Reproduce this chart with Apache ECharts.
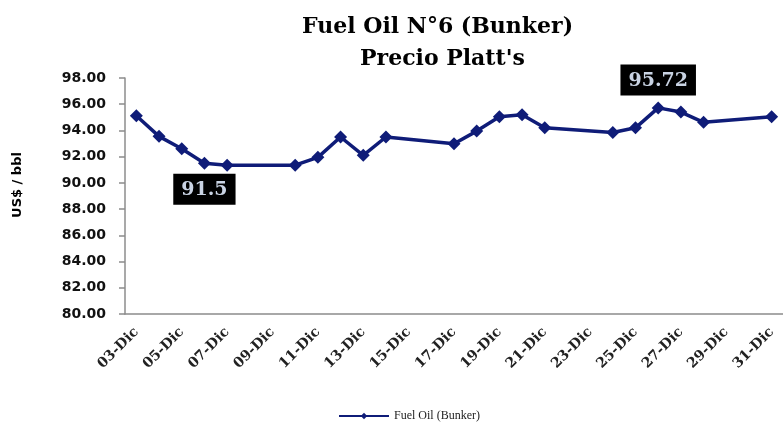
<!DOCTYPE html>
<html>
<head>
<meta charset="utf-8">
<script src="https://cdn.jsdelivr.net/npm/echarts@6/dist/echarts.min.js"></script>
<style>
  html, body { margin: 0; padding: 0; background: #fff; }
  #chart { width: 783px; height: 425px; }
</style>
</head>
<body>
<div id="chart"></div>
<script>
// every day on the axis (03-Dic .. 31-Dic)
var days = ['03-Dic','04-Dic','05-Dic','06-Dic','07-Dic','08-Dic','09-Dic','10-Dic','11-Dic','12-Dic',
  '13-Dic','14-Dic','15-Dic','16-Dic','17-Dic','18-Dic','19-Dic','20-Dic','21-Dic','22-Dic',
  '23-Dic','24-Dic','25-Dic','26-Dic','27-Dic','28-Dic','29-Dic','30-Dic','31-Dic'];

// days with a quote and their price
var quoteDays = ['03-Dic','04-Dic','05-Dic','06-Dic','07-Dic','10-Dic','11-Dic','12-Dic','13-Dic','14-Dic',
  '17-Dic','18-Dic','19-Dic','20-Dic','21-Dic','24-Dic','25-Dic','26-Dic','27-Dic','28-Dic','31-Dic'];
var prices = [95.12, 93.55, 92.6, 91.5, 91.35, 91.35, 91.95, 93.5, 92.1, 93.5,
  92.98, 93.95, 95.05, 95.2, 94.2, 93.85, 94.2, 95.72, 95.4, 94.62, 95.05];

// points that carry a value label
var labelled = ['06-Dic', '26-Dic'];

var yTicks = [80, 82, 84, 86, 88, 90, 92, 94, 96, 98];

var chart = echarts.init(document.getElementById('chart'));

var seriesData = quoteDays.map(function (d, i) {
  var item = { value: [d, prices[i]] };
  if (labelled.indexOf(d) >= 0) {
    var below = d === '06-Dic';
    item.label = {
      show: true,
      position: below ? 'bottom' : 'top',
      distance: below ? 4 : 6,
      formatter: String(prices[i]),
      backgroundColor: '#000',
      color: '#c9d3e3',
      fontFamily: 'DejaVu Serif',
      fontWeight: 'bold',
      fontSize: 19,
      padding: [7, 8, 5, 8]
    };
  }
  return item;
});

var titleFont = { fontFamily: 'DejaVu Serif', fontWeight: 'bold', fontSize: 22, color: '#000' };

var option = {
  animation: false,
  backgroundColor: '#fff',
  title: [
    { text: 'Fuel Oil N°6 (Bunker)', left: 297, top: 11, textStyle: titleFont },
    { text: "Precio Platt's", left: 355, top: 43, textStyle: titleFont }
  ],
  legend: {
    left: 333, top: 405,
    itemWidth: 50, itemHeight: 8,
    data: ['Fuel Oil (Bunker)'],
    textStyle: { fontFamily: 'Liberation Serif', fontSize: 12, color: '#222' }
  },
  grid: { left: 125, right: -6, top: 78, bottom: 111 },
  xAxis: {
    type: 'category',
    data: days,
    boundaryGap: true,
    axisLine: { lineStyle: { color: '#8c8c8c', width: 1.5 } },
    axisTick: { interval: 1, length: 6, lineStyle: { color: '#8c8c8c', width: 1.5 } },
    axisLabel: {
      interval: 1, rotate: 45, margin: 16,
      fontFamily: 'DejaVu Serif', fontWeight: 'bold', fontSize: 14, color: '#222'
    }
  },
  yAxis: {
    type: 'value',
    min: yTicks[0], max: yTicks[yTicks.length - 1], interval: 2,
    name: 'US$ / bbl',
    nameLocation: 'middle', nameRotate: 90, nameGap: 101,
    nameTextStyle: { fontFamily: 'DejaVu Sans', fontWeight: 'bold', fontSize: 13, color: '#000', padding: [0, 0, 0, 22] },
    splitLine: { show: false },
    axisLine: { show: true, lineStyle: { color: '#8c8c8c', width: 1.5 } },
    axisTick: { show: true, length: 6, lineStyle: { color: '#8c8c8c', width: 1.5 } },
    axisLabel: {
      margin: 19,
      formatter: function (v) { return v.toFixed(2); },
      fontFamily: 'DejaVu Sans', fontWeight: 'bold', fontSize: 14, color: '#111'
    }
  },
  series: [
    {
      name: 'Fuel Oil (Bunker)',
      type: 'line',
      symbol: 'diamond',
      symbolSize: 13,
      connectNulls: true,
      itemStyle: { color: '#0f1c78' },
      lineStyle: { width: 3.5, color: '#0f1c78' },
      data: seriesData
    }
  ]
};

chart.setOption(option);
</script>
</body>
</html>
